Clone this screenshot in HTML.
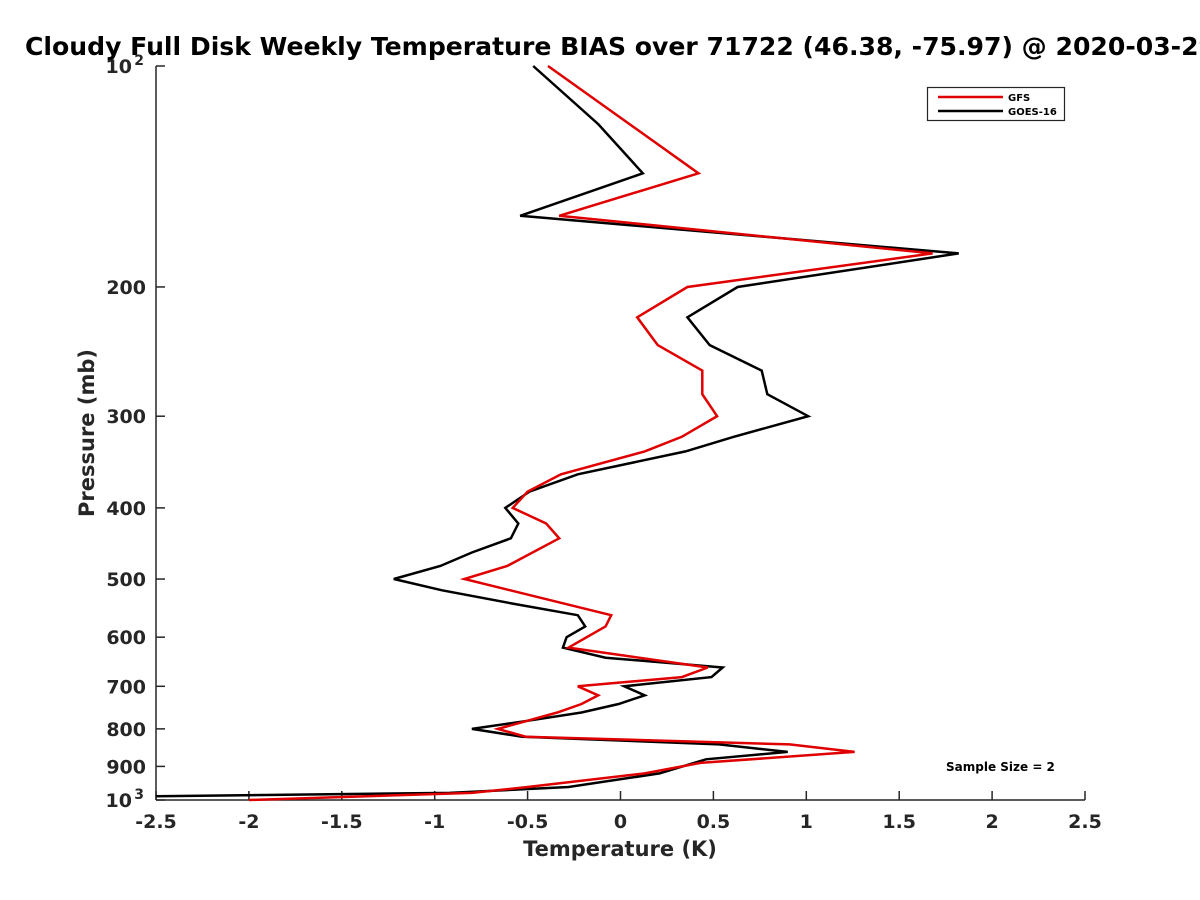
<!DOCTYPE html>
<html><head><meta charset="utf-8"><style>
html,body{margin:0;padding:0;background:#fff;width:1200px;height:900px;overflow:hidden}
svg text{font-family:"DejaVu Sans","Liberation Sans",sans-serif;font-weight:bold}
</style></head><body>
<svg id="chart" width="1200" height="900" viewBox="0 0 1200 900" xmlns="http://www.w3.org/2000/svg">
<rect width="1200" height="900" fill="#fff"/>
<text x="25" y="55" font-size="25.1" fill="#000">Cloudy Full Disk Weekly Temperature BIAS over 71722 (46.38, -75.97) @ 2020-03-29</text>
<g id="axes"></g>
<g id="series"></g>
<g>
<rect x="927.5" y="87.5" width="137" height="33" fill="#fff" stroke="#262626" stroke-width="1.2"/>
<line x1="938" y1="97" x2="1003" y2="97" stroke="#e00000" stroke-width="2.5"/>
<text x="1008" y="101" font-size="10" fill="#000">GFS</text>
<line x1="938" y1="111" x2="1003" y2="111" stroke="#000" stroke-width="2.5"/>
<text x="1008" y="115" font-size="10" fill="#000">GOES-16</text>
</g>
<text x="946" y="771" font-size="12" fill="#000">Sample Size = 2</text>
<text x="620" y="856" font-size="21" text-anchor="middle" fill="#262626">Temperature (K)</text>
<text x="0" y="0" font-size="21" text-anchor="middle" fill="#262626" transform="translate(94,433) rotate(-90)">Pressure (mb)</text>
</svg>
<script>
const xTicks = [-2.5,-2,-1.5,-1,-0.5,0,0.5,1,1.5,2,2.5];
const yTicks = [100,200,300,400,500,600,700,800,900,1000];
const yTickLabels = ["10","200","300","400","500","600","700","800","900","10"];
const gfsPressure = [100,140,160,180,200,220,240,260,280,300,320,335,360,380,400,420,440,480,500,560,580,620,660,680,700,720,740,760,800,820,840,860,890,920,960,978,1000];
const gfsBias = [-0.39,0.42,-0.33,1.68,0.36,0.09,0.20,0.44,0.44,0.52,0.33,0.13,-0.32,-0.50,-0.58,-0.40,-0.33,-0.61,-0.84,-0.05,-0.08,-0.28,0.47,0.33,-0.23,-0.12,-0.21,-0.34,-0.66,-0.51,0.91,1.26,0.43,0.13,-0.50,-0.80,-2.0];
const goesPressure = [100,120,140,160,180,200,220,240,260,280,300,320,335,360,380,400,420,440,460,480,500,518,540,560,580,600,620,640,660,680,700,720,740,760,780,800,820,840,860,880,920,960,978,988];
const goesBias = [-0.47,-0.12,0.12,-0.54,1.82,0.63,0.36,0.48,0.76,0.79,1.01,0.61,0.35,-0.23,-0.49,-0.62,-0.55,-0.59,-0.80,-0.97,-1.22,-0.96,-0.58,-0.23,-0.19,-0.29,-0.31,-0.08,0.55,0.49,0.02,0.13,-0.01,-0.21,-0.50,-0.80,-0.53,0.53,0.90,0.46,0.21,-0.28,-0.92,-2.5];

const NS="http://www.w3.org/2000/svg";
const L=156,R=1085,T=66,B=800;
function xs(v){return L+(v+2.5)/5*(R-L);}
function ys(p){return T+Math.log10(p/100)*(B-T);}
function mk(tag,attrs,parent){const e=document.createElementNS(NS,tag);for(const k in attrs)e.setAttribute(k,attrs[k]);parent.appendChild(e);return e;}
const axes=document.getElementById('axes');
const xa=mk('line',{x1:L,y1:B,x2:R,y2:B,stroke:'#262626','stroke-width':1.5},axes);


const ya=mk('line',{x1:L,y1:T,x2:L,y2:B,stroke:'#262626','stroke-width':1.5},axes);


xTicks.forEach(v=>{
  const x=xs(v);
  const t=mk('line',{x1:x,y1:B,x2:x,y2:B-9,stroke:'#262626','stroke-width':1.5},axes);
  
  
  const lb=mk('text',{x:x,y:B+28,'font-size':19,'text-anchor':'middle',fill:'#262626'},axes);
  
  
  lb.textContent=String(v);
});
yTicks.forEach((p,i)=>{
  const y=ys(p);
  const t=mk('line',{x1:L,y1:y,x2:L+9,y2:y,stroke:'#262626','stroke-width':1.5},axes);
  
  
  const lb=mk('text',{x:L-10,y:y+7,'font-size':19,'text-anchor':'end',fill:'#262626'},axes);
  
  
  if(p===100||p===1000){
    lb.setAttribute('x',L-24);
    lb.textContent=yTickLabels[i];
    const s=mk('text',{x:L-12,y:y-1,'font-size':14,'text-anchor':'end',fill:'#262626'},axes);
    
    
    s.textContent=p===100?'2':'3';
  } else lb.textContent=yTickLabels[i];
});
const sg=document.getElementById('series');
function line(ps,vs,color,name){
  const d=ps.map((p,i)=>(i?'L':'M')+xs(vs[i]).toFixed(1)+','+ys(p).toFixed(1)).join(' ');
  const e=mk('path',{d:d,fill:'none',stroke:color,'stroke-width':2.5,'stroke-linejoin':'miter'},sg);
  
  
}
line(goesPressure,goesBias,'#000','goes16-bias-line');
line(gfsPressure,gfsBias,'#e00000','gfs-bias-line');
</script>
</body></html>
